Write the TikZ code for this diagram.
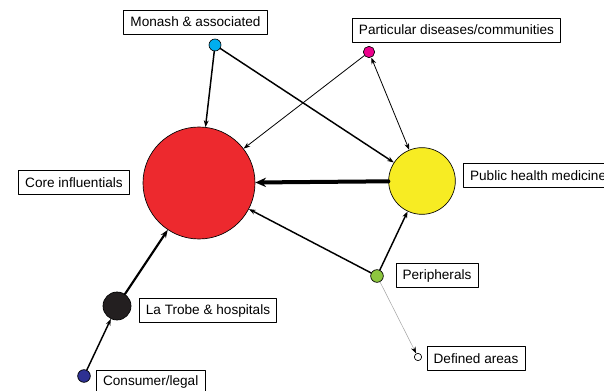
\documentclass[tikz,border=0pt]{standalone}
\usepackage{fontspec}
\setmainfont{Liberation Sans}
\usetikzlibrary{arrows.meta}
\definecolor{cred}{RGB}{237,41,46}
\definecolor{cyel}{RGB}{247,236,35}
\definecolor{ccya}{RGB}{0,174,239}
\definecolor{cmag}{RGB}{236,0,140}
\definecolor{cblk}{RGB}{35,31,32}
\definecolor{cblu}{RGB}{46,49,146}
\definecolor{cgrn}{RGB}{141,198,63}
\begin{document}
\begin{tikzpicture}[x=0.75pt,y=-0.75pt,>={Stealth[length=5pt,width=3.6pt]},line join=round,line cap=round,
	font=\fontsize{10.2}{12}\selectfont,
	dot/.style={circle,draw=black,line width=0.5pt,inner sep=0pt,minimum size=#1},
	lab/.style={draw=black,line width=0.6pt,fill=white,inner xsep=5pt,minimum height=18pt}]
	\useasboundingbox (0,0) rectangle (604,391);
	% circles
	\node[dot=84pt,fill=cred] (core) at (199,183) {};
	\node[dot=50pt,fill=cyel] (pub) at (422,181) {};
	\node[dot=21pt,fill=cblk] (lat) at (117,306) {};
	\node[dot=9pt,fill=ccya] (mon) at (215,45) {};
	\node[dot=8.5pt,fill=cmag] (par) at (369,52) {};
	\node[dot=9.5pt,fill=cblu] (con) at (84,376) {};
	\node[dot=9.5pt,fill=cgrn] (per) at (377,276) {};
	\node[dot=5.5pt,fill=white] (def) at (418,357) {};
	% labels
	\node[lab] (monl) at (195.5,22) {Monash \& associated};
	\node[lab] (parl) at (456.5,30) {Particular diseases/communities};
	\node[lab] (corel) at (74,182.5) {Core influentials};
	\node[lab,anchor=west] (publ) at (463,175.5) {Public health medicine};
	\node[lab] (latl) at (208,310.5) {La Trobe \& hospitals};
	\node[lab,anchor=west] (conl) at (96,382) {Consumer/legal};
	\node[lab] (perl) at (437,275.5) {Peripherals};
	\node[lab] (defl) at (476,358.5) {Defined areas};
	% links
	\draw[->,line width=1.1pt] (mon)--(core);
	\draw[->,line width=1.1pt] (mon)--(pub);
	\draw[<->,line width=0.6pt] (par)--(pub);
	\draw[->,line width=0.6pt] (par)--(core);
	\draw[-{Stealth[length=8pt,width=7pt]},line width=3pt] (pub)--(core);
	\draw[->,line width=1.1pt] (per)--(core);
	\draw[->,line width=1.1pt] (per)--(pub);
	\draw[->,line width=0.4pt,draw=gray!70,-{Stealth[length=5pt,width=3.6pt,color=black]}] (per)--(def);
	\draw[->,line width=1.6pt,-{Stealth[length=6pt,width=4.5pt]}] (lat)--(core);
	\draw[->,line width=1.1pt] (con)--(lat);
\end{tikzpicture}
\end{document}
